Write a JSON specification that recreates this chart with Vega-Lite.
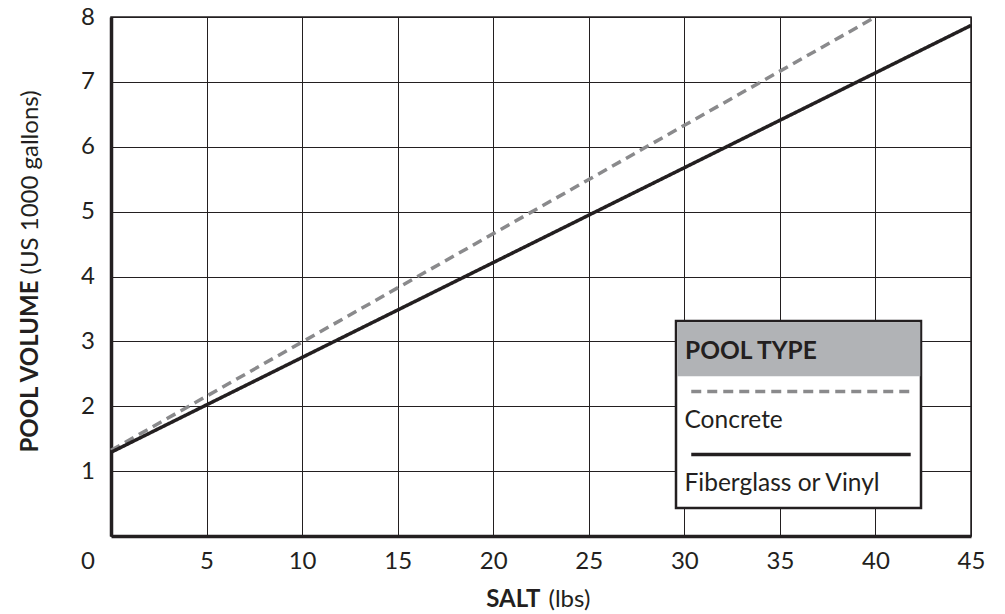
{
  "$schema": "https://vega.github.io/schema/vega-lite/v6.json",
  "width": 860,
  "height": 519,
  "autosize": "none",
  "padding": {"left": 111, "top": 17, "right": 34, "bottom": 78},
  "background": "white",
  "config": {
    "font": "Lato",
    "view": {"stroke": "#231f20", "strokeWidth": 1.5},
    "axis": {
      "labelFont": "Lato", "labelFontSize": 24, "labelColor": "#231f20",
      "titleFont": "Lato", "titleFontSize": 24, "titleColor": "#231f20",
      "ticks": false, "tickSize": 0,
      "gridColor": "#231f20", "gridOpacity": 1, "gridWidth": 1,
      "domainColor": "#231f20", "domainWidth": 3.5
    },
    "legend": {"labelFont": "Lato", "titleFont": "Lato"}
  },
  "data": {
    "values": [
      {"type": "Concrete", "salt": 0, "volume": 1.32},
      {"type": "Concrete", "salt": 40, "volume": 8.0},
      {"type": "Fiberglass or Vinyl", "salt": 0, "volume": 1.29},
      {"type": "Fiberglass or Vinyl", "salt": 45, "volume": 7.87}
    ]
  },
  "layer": [
    {
      "mark": {"type": "line", "strokeWidth": 3.5, "strokeCap": "butt"},
      "encoding": {
        "x": {
          "field": "salt", "type": "quantitative",
          "scale": {"domain": [0, 45], "nice": false},
          "axis": {
            "orient": "bottom", "values": [0, 5, 10, 15, 20, 25, 30, 35, 40, 45],
            "title": "SALT", "titleFontWeight": "bold", "titleAlign": "right", "titleBaseline": "middle",
            "titleX": 429, "titleY": 63,
            "labelBaseline": "middle", "labelPadding": 25, "labelFlush": false, "labelOverlap": false,
            "labelOffset": {"condition": {"test": "datum.value === 0", "value": -23.5}, "value": 0}
          }
        },
        "y": {
          "field": "volume", "type": "quantitative",
          "scale": {"domain": [0, 8], "nice": false},
          "axis": {
            "orient": "left", "values": [1, 2, 3, 4, 5, 6, 7, 8],
            "title": "POOL VOLUME", "titleFontWeight": "bold", "titleAngle": 270,
            "titleAlign": "right", "titleBaseline": "middle", "titleX": -81, "titleY": 263,
            "labelAlign": "center", "labelBaseline": "middle", "labelPadding": 23.5
          }
        },
        "stroke": {
          "field": "type", "type": "nominal",
          "scale": {"domain": ["Concrete", "Fiberglass or Vinyl"], "range": ["#8a8a8c", "#231f20"]},
          "legend": {
            "orient": "none", "legendX": 565, "legendY": 304, "zindex": 1,
            "title": " ", "titleFontSize": 24.5, "titleFontWeight": "bold", "titleColor": "#231f20",
            "titleBaseline": "line-top", "titleLineHeight": 40.5, "titlePadding": 30.7,
            "fillColor": "white", "strokeColor": "#231f20", "padding": 3,
            "encode": {"legend": {"update": {"strokeWidth": {"value": 2.5}}}, "labels": {"update": {"lineHeight": {"value": 9}, "dy": {"value": 17.6}}}},
            "symbolType": "M0,0H39.9", "symbolSize": 121, "symbolStrokeWidth": 3.5,
            "labelFontSize": 24.5, "labelColor": "#231f20", "labelBaseline": "top", "labelOffset": -19, "labelLimit": 400,
            "labelExpr": "[datum.label, '']", "rowPadding": 0
          }
        },
        "strokeDash": {
          "field": "type", "type": "nominal",
          "scale": {"domain": ["Concrete", "Fiberglass or Vinyl"], "range": [[10, 6], [1, 0]]},
          "legend": {
            "orient": "none", "legendX": 565, "legendY": 304, "zindex": 1,
            "title": " ", "titleFontSize": 24.5, "titleFontWeight": "bold", "titleColor": "#231f20",
            "titleBaseline": "line-top", "titleLineHeight": 40.5, "titlePadding": 30.7,
            "fillColor": "white", "strokeColor": "#231f20", "padding": 3,
            "encode": {"legend": {"update": {"strokeWidth": {"value": 2.5}}}, "labels": {"update": {"lineHeight": {"value": 9}, "dy": {"value": 17.6}}}},
            "symbolType": "M0,0H39.9", "symbolSize": 121, "symbolStrokeWidth": 3.5,
            "labelFontSize": 24.5, "labelColor": "#231f20", "labelBaseline": "top", "labelOffset": -19, "labelLimit": 400,
            "labelExpr": "[datum.label, '']", "rowPadding": 0
          }
        }
      }
    },
    {
      "mark": {"type": "point", "opacity": 0},
      "encoding": {
        "x": {
          "field": "salt", "type": "quantitative",
          "scale": {"domain": [0, 45], "nice": false},
          "axis": {
            "orient": "bottom", "labels": false, "grid": false, "domain": false, "ticks": false,
            "title": "(lbs)", "titleFontWeight": "normal", "titleAlign": "left", "titleBaseline": "middle",
            "titleX": 437, "titleY": 63
          }
        },
        "y": {
          "field": "volume", "type": "quantitative",
          "scale": {"domain": [0, 8], "nice": false},
          "axis": {
            "orient": "left", "labels": false, "grid": false, "domain": false, "ticks": false,
            "title": "(US 1000 gallons)", "titleFontWeight": "normal", "titleAngle": 270,
            "titleAlign": "left", "titleBaseline": "middle", "titleX": -81, "titleY": 257
          }
        },
        "fill": {
          "datum": "POOL TYPE",
          "scale": {"range": ["#b1b3b6"]},
          "legend": {
            "orient": "none", "legendX": 566.25, "legendY": 305.25, "zindex": 2,
            "title": "POOL TYPE", "titleFontSize": 24.5, "titleFontWeight": "bold", "titleColor": "#231f20",
            "titleBaseline": "line-top", "titleLineHeight": 44.5, "titlePadding": 12,
            "fillColor": "#b1b3b6", "strokeColor": null, "padding": 7.75,
            "symbolType": "M0,0H226", "symbolSize": 4, "symbolStrokeWidth": 0.1, "symbolOpacity": 0,
            "labelExpr": "''", "labelFontSize": 1, "labelOffset": 2
          }
        }
      }
    }
  ],
  "resolve": {"axis": {"x": "independent", "y": "independent"}}
}
